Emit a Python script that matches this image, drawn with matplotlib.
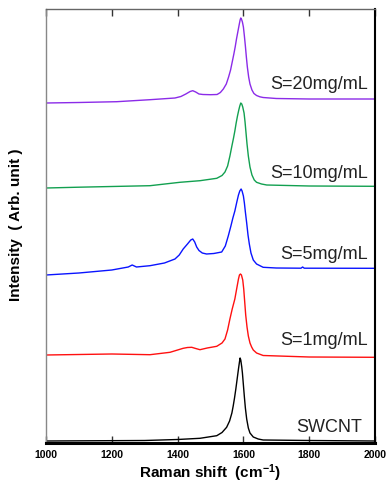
import matplotlib
matplotlib.use("Agg")
import matplotlib.pyplot as plt
import numpy as np

plt.rcParams['font.family'] = ['Liberation Sans', 'DejaVu Sans']
plt.rcParams['mathtext.fontset'] = 'custom'
plt.rcParams['mathtext.rm'] = 'Liberation Sans:bold'
plt.rcParams['mathtext.it'] = 'Liberation Sans:italic'
plt.rcParams['mathtext.bf'] = 'Liberation Sans:bold'

# ---- data ----
labels = ["S=20mg/mL", "S=10mg/mL", "S=5mg/mL", "S=1mg/mL", "SWCNT"]
colors = ["#8b2be8", "#12a050", "#0a14ff", "#ff1010", "#000000"]
offsets = [340, 255, 168, 88, 2]

x_20 = [1000, 1100, 1215, 1316, 1392, 1410, 1425, 1438, 1446, 1455, 1465, 1477, 1500, 1520, 1530, 1539, 1548, 1555, 1561, 1566, 1571, 1575, 1579, 1583, 1587, 1590, 1592, 1594, 1597, 1600, 1603, 1606, 1609, 1612, 1616, 1620, 1626, 1632, 1640, 1650, 1660, 1700, 1800, 2000]
y_20 = [0, 0.5, 1.3, 3.3, 5, 6.5, 9, 11.5, 12.3, 11, 9, 8.5, 8.3, 8.5, 10.5, 14, 19, 26, 33, 41, 49, 56, 64, 71, 78, 83, 85, 84, 81, 76, 67, 57, 46, 36, 26, 19, 13, 9.5, 7.5, 6.2, 5.5, 4.5, 4, 4]

x_10 = [1000, 1100, 1200, 1316, 1407, 1468, 1519, 1535, 1544, 1552, 1559, 1565, 1570, 1574, 1578, 1582, 1586, 1589, 1592, 1595, 1598, 1602, 1605, 1608, 1611, 1615, 1620, 1626, 1633, 1640, 1655, 1671, 1800, 2000]
y_10 = [0, 0.8, 1.5, 2.3, 5.7, 7.3, 9.7, 12.5, 16, 22, 32, 42, 50, 57, 65, 72, 78, 82, 85, 84, 81, 75, 66, 55, 44, 32, 21, 13, 8, 5.7, 4, 3, 2, 1.7]

x_5 = [1000, 1100, 1200, 1250, 1262, 1275, 1316, 1360, 1392, 1405, 1417, 1430, 1440, 1446, 1452, 1458, 1465, 1475, 1488, 1510, 1534, 1545, 1554, 1562, 1568, 1574, 1580, 1585, 1589, 1593, 1596, 1600, 1603, 1606, 1610, 1614, 1618, 1623, 1630, 1640, 1660, 1700, 1775, 1780, 1785, 2000]
y_5 = [0, 2, 5, 8, 10, 8, 9.3, 12, 16, 20, 26, 31, 35, 36, 33, 28, 24.5, 22, 21, 21.5, 23, 29, 39, 49, 57, 64, 73, 80, 84, 86, 84, 79, 72, 63, 52, 40, 31, 22, 15, 11, 7.7, 7, 6.8, 8, 6.8, 6.7]

x_1 = [1000, 1100, 1200, 1316, 1377, 1400, 1417, 1430, 1443, 1455, 1468, 1490, 1519, 1535, 1544, 1552, 1559, 1566, 1574, 1580, 1585, 1588, 1591, 1594, 1598, 1601, 1604, 1607, 1611, 1615, 1620, 1625, 1630, 1640, 1660, 1800, 2000]
y_1 = [0, 0.5, 1, 0.3, 2.7, 5, 6.7, 7.5, 7.7, 6.5, 5.3, 7, 8.7, 12, 16, 25, 36, 46, 56, 67, 76, 80, 81, 80, 75, 66, 53, 40, 28, 19, 12, 8, 5, 2, -0.5, -2, -2.3]

x_0 = [1000, 1300, 1400, 1468, 1519, 1535, 1549, 1558, 1565, 1569, 1573, 1577, 1581, 1585, 1588, 1590, 1592, 1595, 1597, 1600, 1603, 1606, 1610, 1615, 1620, 1630, 1645, 1660, 1800, 2000]
y_0 = [0, 0.5, 1.5, 2.7, 5.3, 8.5, 13.7, 20, 28, 35, 43, 52, 62, 72, 79, 83, 81, 74, 68, 56, 44, 33, 22, 13, 8, 4, 2, 1, 0.5, 0]

series_x = [x_20, x_10, x_5, x_1, x_0]
series_y = [y_20, y_10, y_5, y_1, y_0]

label_x = [1979, 1979, 1979, 1979, 1960]
label_y = [359, 270, 189, 103, 16]

xticks = [1000, 1200, 1400, 1600, 1800, 2000]

# ---- figure ----
fig = plt.figure(figsize=(3.88, 4.85), dpi=100)
ax = fig.add_axes([46/388, 41/485, 329/388, 434/485])

for xs, ys, off, c in zip(series_x, series_y, offsets, colors):
    ax.plot(xs, np.array(ys) + off, color=c, lw=1.0, solid_joinstyle='round')

for lab, lx, ly in zip(labels, label_x, label_y):
    ax.text(lx, ly, lab, ha='right', va='center', fontsize=13, color='#222222')

ax.set_xlim(1000, 2000)
ax.set_ylim(0, 434)
ax.set_xticks(xticks)
ax.set_xticklabels([str(t) for t in xticks], fontsize=7.5, fontweight='bold')
ax.set_yticks([])
ax.tick_params(axis='x', direction='in', top=True, length=5, width=1.0, pad=4, color='#333333')

ax.spines['bottom'].set_linewidth(2.2)
ax.spines['bottom'].set_color('black')
ax.spines['right'].set_linewidth(1.5)
ax.spines['right'].set_color('black')
ax.spines['left'].set_linewidth(1.0)
ax.spines['left'].set_color('#888888')
ax.spines['top'].set_linewidth(1.0)
ax.spines['top'].set_color('#666666')

fig.text(210/388, 1 - 473/485, r"Raman shift  (cm$^{-1}$)", ha='center', va='center', fontsize=11, fontweight='bold')
fig.text(16/388, 1 - 225/485, "Intensity  ( Arb. unit )", ha='center', va='center', rotation=90, fontsize=11, fontweight='bold')

fig.savefig("out.png", dpi=100)
